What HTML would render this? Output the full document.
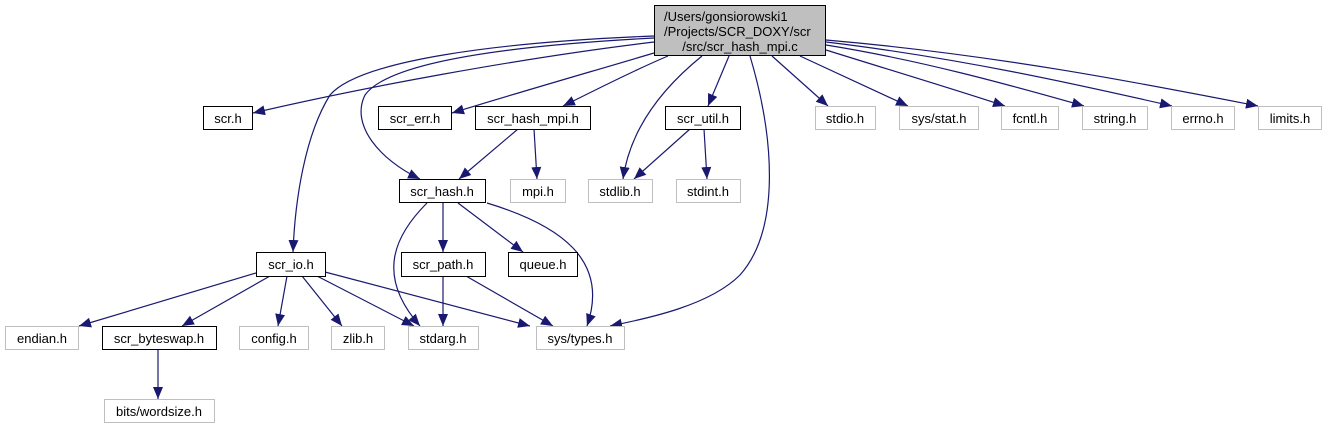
<!DOCTYPE html>
<html><head><meta charset="utf-8"><style>
html,body{margin:0;padding:0;background:#fff;}
svg{display:block;}
text{font-family:"Liberation Sans",Arial,sans-serif;font-size:13px;fill:#000;}
</style></head><body>
<svg width="1326" height="429" viewBox="0 0 1326 429" xmlns="http://www.w3.org/2000/svg">
<defs>
<marker id="a" markerUnits="userSpaceOnUse" markerWidth="13" markerHeight="11" refX="12" refY="5" orient="auto">
<path d="M0,0 L12,5 L0,10 Z" fill="#191970"/>
</marker>
</defs>
<g fill="none" stroke="#191970" stroke-width="1.2" marker-end="url(#a)">
<path d="M654,42 C520,58 360,88 253,113"/>
<path d="M654,53 C590,72 520,92 452,113"/>
<path d="M668,56 C630,72 600,88 563,106"/>
<path d="M654,38 C520,45 390,60 365,95 C350,125 380,160 420,179"/>
<path d="M654,36 C500,42 360,60 330,95 C305,135 295,200 293,252"/>
<path d="M702,56 C660,90 630,130 623,179"/>
<path d="M729,56 L708,106"/>
<path d="M750,56 C775,140 780,230 740,275 C710,305 650,318 610,326"/>
<path d="M772,56 L828,106"/>
<path d="M800,56 L908,106"/>
<path d="M826,50 C890,70 950,88 1005,106"/>
<path d="M826,45 C920,60 1010,85 1084,106"/>
<path d="M826,42 C960,58 1080,85 1172,106"/>
<path d="M826,40 C1000,55 1150,85 1258,106"/>
<path d="M518,129 L459,179"/>
<path d="M534,129 L537,179"/>
<path d="M690,129 L634,179"/>
<path d="M704,129 L707,179"/>
<path d="M443,203 L443,252"/>
<path d="M458,203 L523,252"/>
<path d="M427,203 C395,235 375,275 420,326"/>
<path d="M487,203 C560,225 610,260 587,326"/>
<path d="M443,276 L443,326"/>
<path d="M466,276 L553,326"/>
<path d="M256,273 L79,326"/>
<path d="M270,276 L182,326"/>
<path d="M287,276 L278,326"/>
<path d="M302,276 L342,326"/>
<path d="M317,276 L414,326"/>
<path d="M325,272 L530,326"/>
<path d="M158,350 L158,399"/>
</g>
<g stroke-width="1">
<rect x="654.5" y="5.5" width="171" height="50" fill="#bfbfbf" stroke="#000"/>
<g fill="#fff" stroke="#000">
<rect x="203.5" y="106.5" width="49" height="23"/>
<rect x="378.5" y="106.5" width="73" height="23"/>
<rect x="475.5" y="106.5" width="115" height="23"/>
<rect x="665.5" y="106.5" width="75" height="23"/>
<rect x="399.5" y="179.5" width="86" height="23"/>
<rect x="256.5" y="252.5" width="69" height="24"/>
<rect x="401.5" y="252.5" width="84" height="24"/>
<rect x="508.5" y="252.5" width="69" height="24"/>
<rect x="102.5" y="326.5" width="114" height="23"/>
</g>
<g fill="#fff" stroke="#bfbfbf">
<rect x="815.5" y="106.5" width="60" height="23"/>
<rect x="899.5" y="106.5" width="79" height="23"/>
<rect x="1001.5" y="106.5" width="57" height="23"/>
<rect x="1082.5" y="106.5" width="65" height="23"/>
<rect x="1171.5" y="106.5" width="63" height="23"/>
<rect x="1258.5" y="106.5" width="63" height="23"/>
<rect x="510.5" y="179.5" width="55" height="23"/>
<rect x="588.5" y="179.5" width="64" height="23"/>
<rect x="676.5" y="179.5" width="64" height="23"/>
<rect x="5.5" y="326.5" width="73" height="23"/>
<rect x="239.5" y="326.5" width="69" height="23"/>
<rect x="331.5" y="326.5" width="53" height="23"/>
<rect x="408.5" y="326.5" width="70" height="23"/>
<rect x="536.5" y="326.5" width="88" height="23"/>
<rect x="104.5" y="399.5" width="110" height="23"/>
</g>
</g>
<g text-anchor="middle">
<text x="664" y="21" text-anchor="start">/Users/gonsiorowski1</text>
<text x="664" y="36" text-anchor="start">/Projects/SCR_DOXY/scr</text>
<text x="740" y="51">/src/scr_hash_mpi.c</text>
<text x="228" y="123">scr.h</text>
<text x="415" y="123">scr_err.h</text>
<text x="533" y="123">scr_hash_mpi.h</text>
<text x="703" y="123">scr_util.h</text>
<text x="845" y="123">stdio.h</text>
<text x="939" y="123">sys/stat.h</text>
<text x="1030" y="123">fcntl.h</text>
<text x="1115" y="123">string.h</text>
<text x="1203" y="123">errno.h</text>
<text x="1290" y="123">limits.h</text>
<text x="442" y="196">scr_hash.h</text>
<text x="538" y="196">mpi.h</text>
<text x="620" y="196">stdlib.h</text>
<text x="708" y="196">stdint.h</text>
<text x="291" y="269">scr_io.h</text>
<text x="443" y="269">scr_path.h</text>
<text x="543" y="269">queue.h</text>
<text x="42" y="343">endian.h</text>
<text x="159" y="343">scr_byteswap.h</text>
<text x="274" y="343">config.h</text>
<text x="358" y="343">zlib.h</text>
<text x="443" y="343">stdarg.h</text>
<text x="580" y="343">sys/types.h</text>
<text x="159" y="416">bits/wordsize.h</text>
</g>
</svg>
</body></html>
